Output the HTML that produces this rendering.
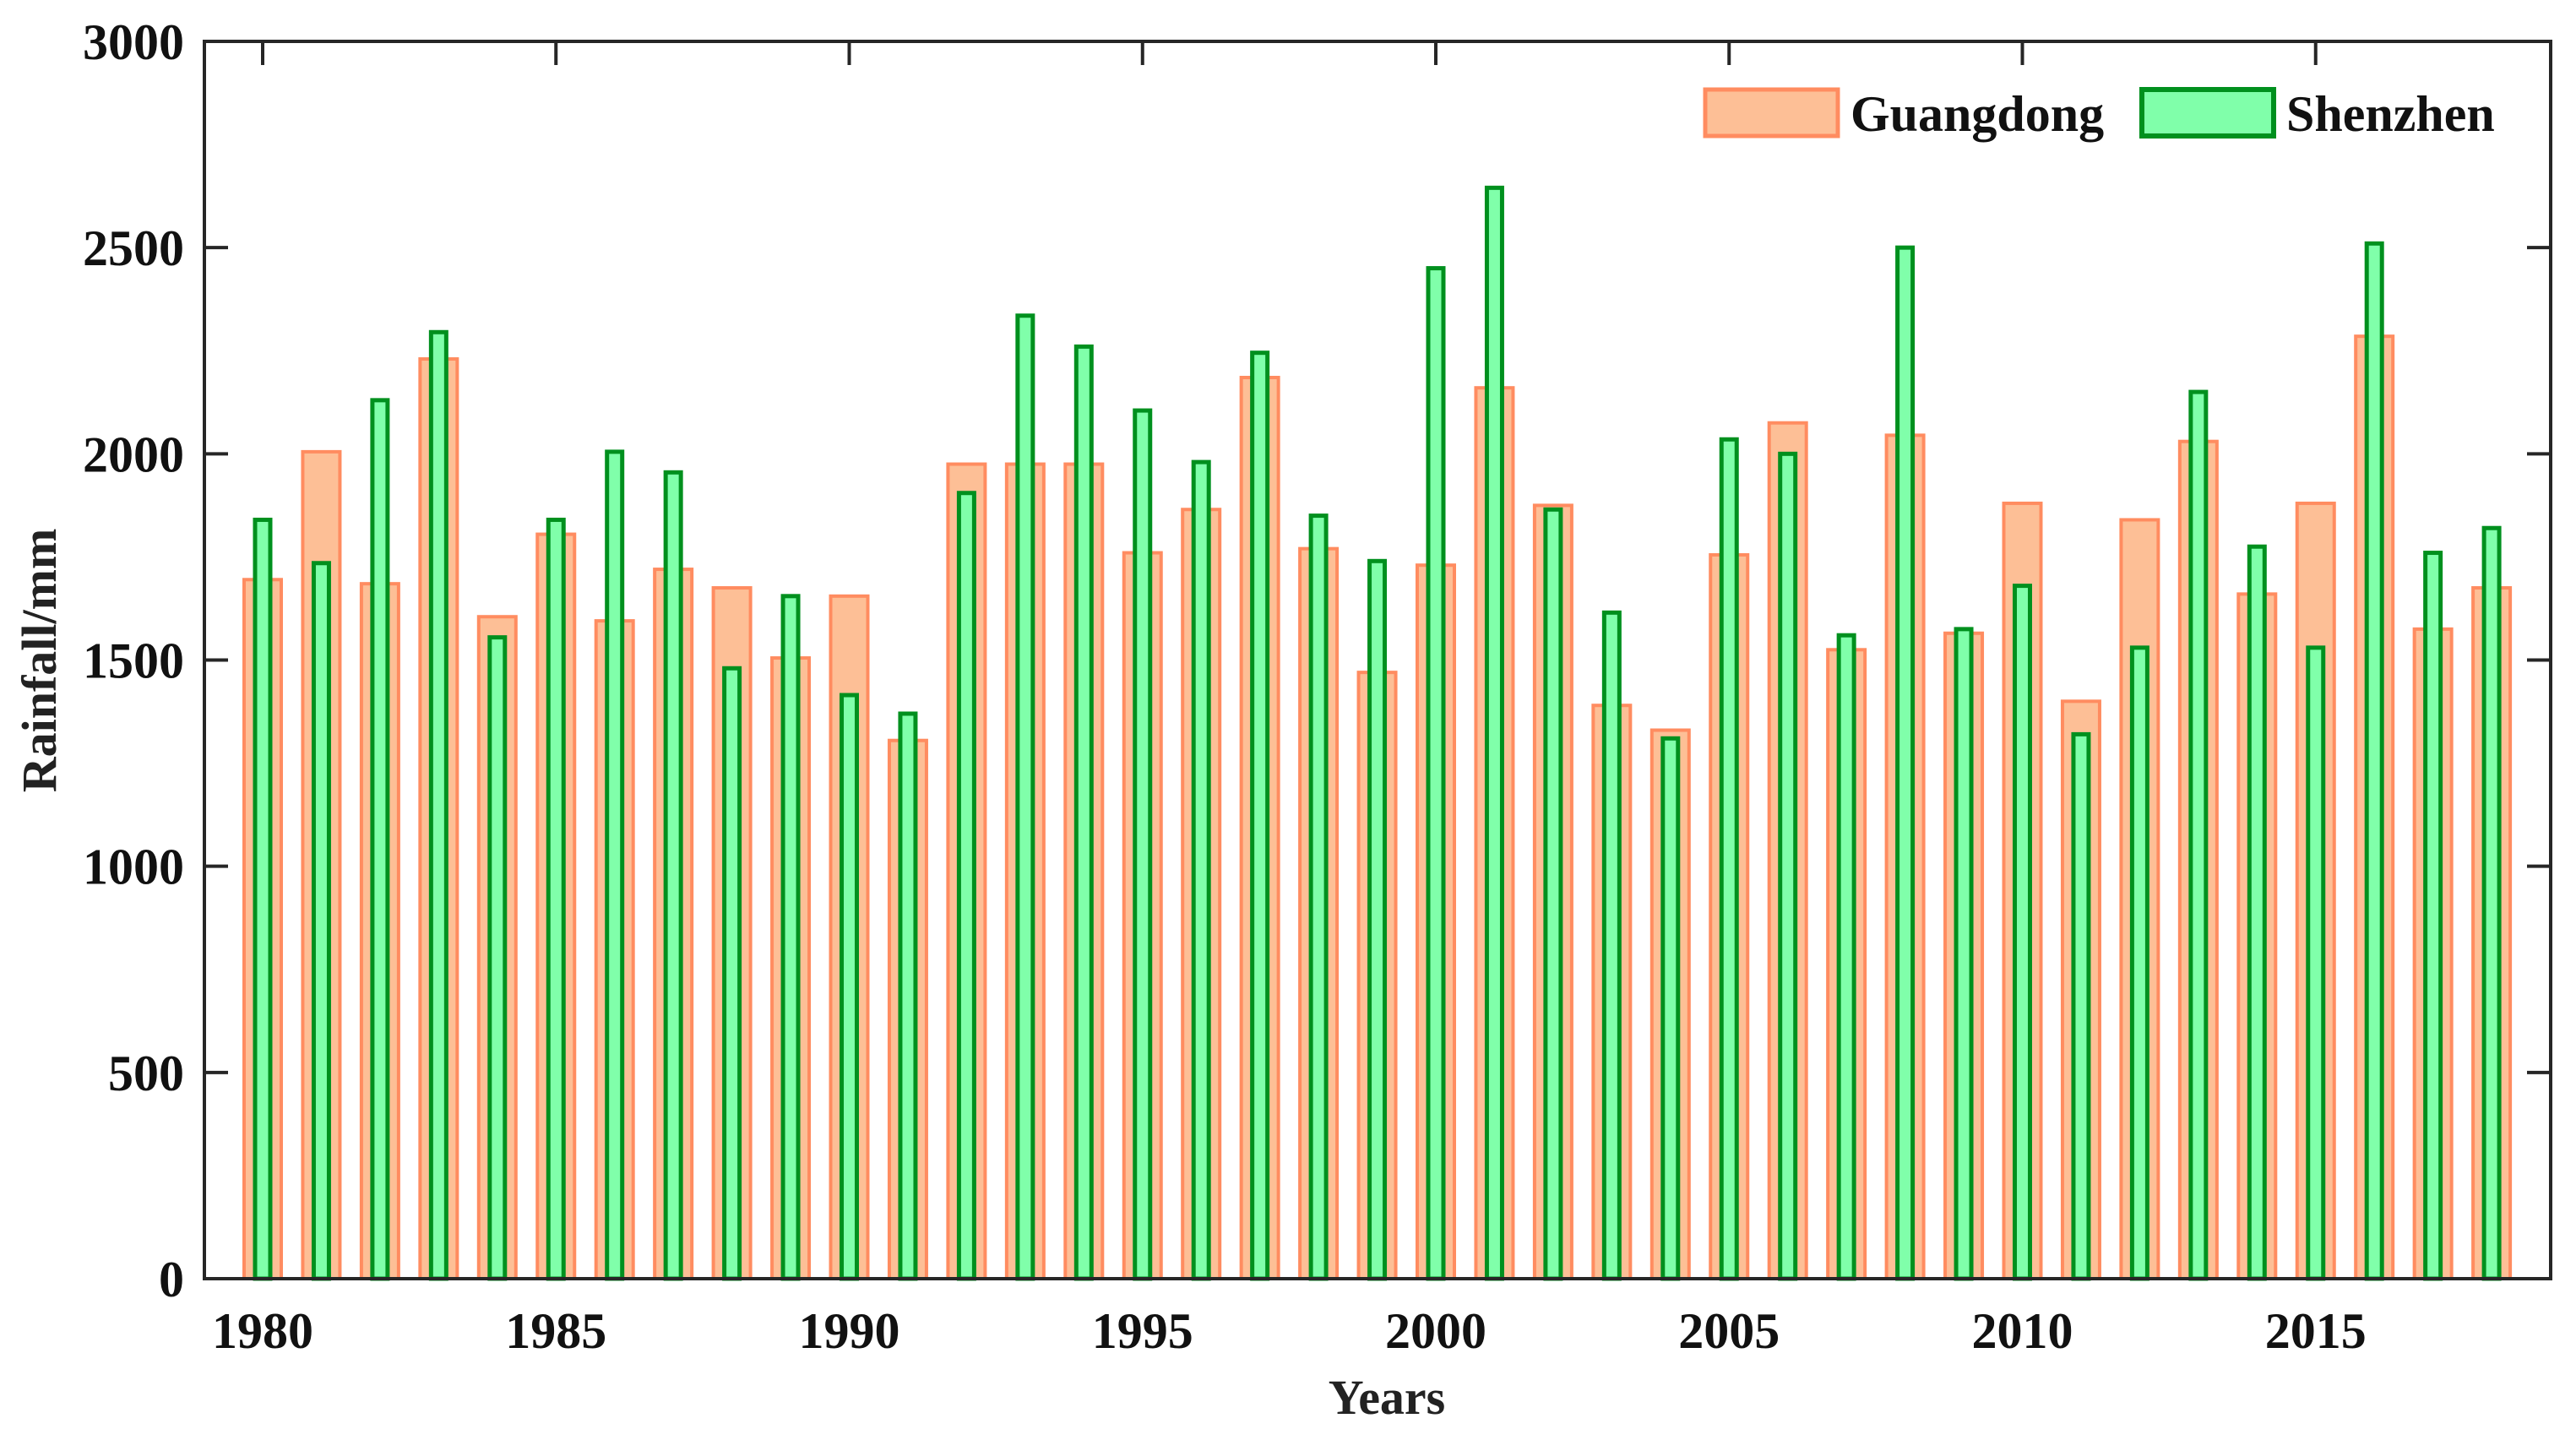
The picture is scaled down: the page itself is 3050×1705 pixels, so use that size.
<!DOCTYPE html>
<html><head><meta charset="utf-8"><style>
html,body{margin:0;padding:0;background:#fff;}
svg{display:block;font-family:"Liberation Serif",serif;font-weight:bold;}
</style></head><body>
<svg id="chart" width="3050" height="1705" viewBox="0 0 3050 1705" xmlns="http://www.w3.org/2000/svg">
<g id="bars"></g>
<g id="axes"></g>
<text x="1642" y="1674" font-size="58" text-anchor="middle" fill="#222">Years</text>
<text transform="translate(66,782) rotate(-90)" font-size="58" text-anchor="middle" fill="#222">Rainfall/mm</text>
<g>
<rect x="2019" y="106" width="157" height="55" fill="#FDBF96" stroke="#FF8C60" stroke-width="5"/>
<text x="2191" y="155" font-size="60" fill="#111">Guangdong</text>
<rect x="2536" y="106" width="156" height="55" fill="#80FFAA" stroke="#00901E" stroke-width="6"/>
<text x="2707" y="155" font-size="60" fill="#111">Shenzhen</text>
</g>
</svg>
<script>
const years = [1980,1981,1982,1983,1984,1985,1986,1987,1988,1989,1990,1991,1992,1993,1994,1995,1996,1997,1998,1999,2000,2001,2002,2003,2004,2005,2006,2007,2008,2009,2010,2011,2012,2013,2014,2015,2016,2017,2018];
const guangdong = [1695,2005,1685,2230,1605,1805,1595,1720,1675,1505,1655,1305,1975,1975,1975,1760,1865,2185,1770,1470,1730,2160,1875,1390,1330,1755,2075,1525,2045,1565,1880,1400,1840,2030,1660,1880,2285,1575,1675];
const shenzhen = [1840,1735,2130,2295,1555,1840,2005,1955,1480,1655,1415,1370,1905,2335,2260,2105,1980,2245,1850,1740,2450,2645,1865,1615,1310,2035,2000,1560,2500,1575,1680,1320,1530,2150,1775,1530,2510,1760,1820];
const yTicks = [0,500,1000,1500,2000,2500,3000];
const xTicks = [1980,1985,1990,1995,2000,2005,2010,2015];

const L=242,R=3020,T=49,B=1514;
const x0=1980, x0px=311, pxPerYear=69.45;
function xs(y){return x0px+(y-x0)*pxPerYear;}
function ys(v){return B-(v/3000)*(B-T);}
const NS="http://www.w3.org/2000/svg";
function mk(tag,attrs,parent){const e=document.createElementNS(NS,tag);for(const k in attrs)e.setAttribute(k,attrs[k]);parent.appendChild(e);return e;}
const bars=document.getElementById('bars');
years.forEach((yr,i)=>{
  const cx=xs(yr);
  const g=mk('rect',{x:cx-22,y:ys(guangdong[i]),width:44,height:B-ys(guangdong[i]),fill:'#FDBF96',stroke:'#FF8C60','stroke-width':4},bars);
  
  
  const s=mk('rect',{x:cx-9,y:ys(shenzhen[i]),width:18,height:B-ys(shenzhen[i]),fill:'#80FFAA',stroke:'#00901E','stroke-width':5},bars);
  
  
});
const ax=document.getElementById('axes');
const frame=mk('rect',{x:L,y:T,width:R-L,height:B-T,fill:'none',stroke:'#262626','stroke-width':4},ax);


yTicks.forEach(v=>{
  const y=ys(v);
  mk('line',{x1:L,y1:y,x2:L+28,y2:y,stroke:'#262626','stroke-width':4},ax);
  mk('line',{x1:R,y1:y,x2:R-28,y2:y,stroke:'#262626','stroke-width':4},ax);
  const t=mk('text',{x:218,y:y+21,'font-size':60,'text-anchor':'end',fill:'#111'},ax);
  t.textContent=v;
  
  
});
xTicks.forEach(v=>{
  const x=xs(v);
  mk('line',{x1:x,y1:T,x2:x,y2:T+28,stroke:'#262626','stroke-width':4},ax);
  const t=mk('text',{x:x,y:1596,'font-size':60,'text-anchor':'middle',fill:'#111'},ax);
  t.textContent=v;
  
  
});
</script>
</body></html>
